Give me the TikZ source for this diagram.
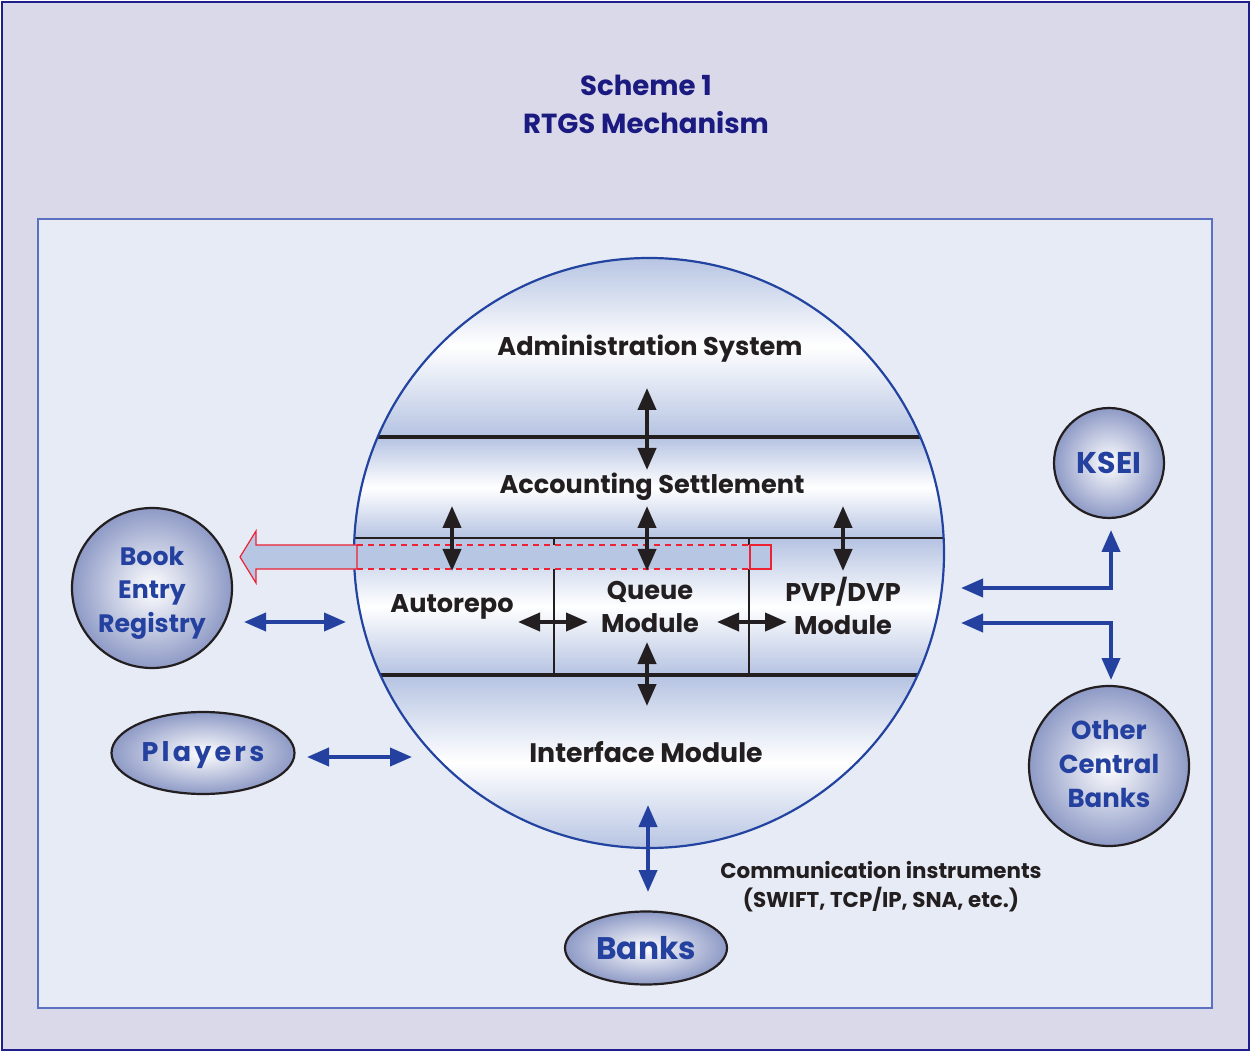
\documentclass[tikz,border=0pt]{standalone}
\usepackage{fontspec}
\setmainfont{Poppins}
\usetikzlibrary{arrows.meta,shapes.geometric}
\definecolor{framebg}{HTML}{D9D9EA}
\definecolor{framedraw}{HTML}{1E1E8C}
\definecolor{panelbg}{HTML}{E7EBF6}
\definecolor{paneldraw}{HTML}{5B70C0}
\definecolor{bandc}{HTML}{B5C3E2}
\definecolor{circdraw}{HTML}{2244A0}
\definecolor{navy}{HTML}{1A1A80}
\definecolor{lblue}{HTML}{2441A0}
\definecolor{ink}{HTML}{231F20}
\definecolor{ballout}{HTML}{8E9AC6}
\definecolor{redarrow}{HTML}{EE2233}
\definecolor{arrfill}{HTML}{B7C6E3}
\begin{document}
\begin{tikzpicture}[x=0.5pt,y=-0.5pt,
  ball/.style={circle, draw=ink, line width=1.1pt, inner color=white, outer color=ballout,
    text=lblue, align=center, inner sep=0pt},
  oval/.style={ellipse, draw=ink, line width=1.1pt, inner color=white, outer color=ballout,
    text=lblue, align=center, inner sep=0pt},
  modtext/.style={font=\bfseries\fontsize{12.8}{16.5}\selectfont, text=ink, align=center},
  titletext/.style={font=\bfseries\fontsize{13.8}{19}\selectfont, text=navy, align=center},
  blk/.style={draw=ink, line width=2pt, {Triangle[width=9pt,length=11pt]}-{Triangle[width=9pt,length=11pt]}},
  blu/.style={draw=lblue, line width=2pt, {Triangle[width=9pt,length=11pt]}-{Triangle[width=9pt,length=11pt]}},
]
\useasboundingbox (0,0) rectangle (1251,1052);
% frames
\draw[fill=framebg, draw=framedraw, line width=1.3pt] (2,2) rectangle (1249,1050);
\draw[fill=panelbg, draw=paneldraw, line width=1pt] (38,219) rectangle (1212,1008);
% title
\node[titletext] (title) at (646,104) {Scheme 1\\RTGS Mechanism};
% big circle bands
\begin{scope}
  \clip (649,553) circle[radius=147.5pt];
  \shade[top color=bandc, bottom color=bandc, middle color=white] (350,255) rectangle (948,437);
  \shade[top color=bandc, bottom color=bandc, middle color=white] (350,437) rectangle (948,538);
  \shade[top color=bandc, bottom color=bandc, middle color=white] (350,538) rectangle (948,675);
  \shade[top color=bandc, bottom color=bandc, middle color=white] (350,675) rectangle (948,850);
  \draw[ink, line width=2pt] (340,437) -- (960,437);
  \draw[ink, line width=1.4pt] (340,538) -- (960,538);
  \draw[ink, line width=2pt] (340,675) -- (960,675);
  \draw[ink, line width=1.1pt] (554,538) -- (554,675);
  \draw[ink, line width=1.1pt] (749,538) -- (749,675);
\end{scope}
\node[circle, draw=circdraw, line width=1.1pt, minimum size=295pt, inner sep=0pt] (rtgs) at (649,553) {};
% red hollow arrow
\fill[arrfill] (357,545) rectangle (750,569);
\draw[redarrow, line width=0.6pt, fill=arrfill] (240,557) -- (256,531) -- (256,545) -- (357,545) -- (357,569) -- (256,569) -- (256,583) -- cycle;
\draw[redarrow, line width=0.8pt, dash pattern=on 3pt off 2.5pt] (357,545) -- (750,545) (357,569) -- (750,569);
\draw[redarrow, line width=0.6pt, fill=arrfill] (750,545) rectangle (771,569);
% module labels
\node[modtext] (adm) at (650,349) {Administration System};
\node[modtext] (acc) at (652,487) {Accounting Settlement};
\node[modtext] (auto) at (452,607) {Autorepo};
\node[modtext] (queue) at (650,607) {Queue\\Module};
\node[modtext] (pvp) at (843,606) {PVP/DVP\\Module};
\node[modtext, font=\bfseries\fontsize{13.4}{16.5}\selectfont] (intf) at (646,752) {Interface Module};
% black arrows
\coordinate (b1a) at (647,388); \coordinate (b1b) at (647,470);
\coordinate (b2a) at (452,506); \coordinate (b2b) at (452,571);
\coordinate (b3a) at (647,506); \coordinate (b3b) at (647,571);
\coordinate (b4a) at (843,506); \coordinate (b4b) at (843,571);
\coordinate (b5a) at (647,642); \coordinate (b5b) at (647,706);
\coordinate (h1a) at (518,622); \coordinate (h1b) at (588,622);
\coordinate (h2a) at (717,622); \coordinate (h2b) at (787,622);
\draw[blk] (b1a) -- (b1b);
\draw[blk] (b2a) -- (b2b);
\draw[blk] (b3a) -- (b3b);
\draw[blk] (b4a) -- (b4b);
\draw[blk] (b5a) -- (b5b);
\draw[blk] (h1a) -- (h1b);
\draw[blk] (h2a) -- (h2b);
% outer entities
\node[ball, minimum size=80pt] (book) at (152,588) {};
\node[text=lblue, align=center, font=\bfseries\fontsize{12.6}{16.6}\selectfont] (booktext) at (152,593) {Book\\Entry\\Registry};
\node[ball, minimum size=55pt, font=\bfseries\fontsize{15}{18}\selectfont] (ksei) at (1109,463) {KSEI};
\node[ball, minimum size=80pt] (ocb) at (1109,766) {};
\node[text=lblue, align=center, font=\bfseries\fontsize{13}{16.8}\selectfont] (ocbtext) at (1109,764) {Other\\Central\\Banks};
\node[oval, minimum width=91.5pt, minimum height=41pt] (players) at (203,753) {};
\node[text=lblue, font=\bfseries\fontsize{13.5}{16}\selectfont] (playerstext) at (203,755) {P\kern1.6pt l\kern1.6pt a\kern1.6pt y\kern1.6pt e\kern1.6pt r\kern1.6pt s};
\node[oval, minimum width=81pt, minimum height=36.5pt, font=\bfseries\fontsize{15.6}{18}\selectfont] (banks) at (646,948) {Banks};
\node[font=\bfseries\fontsize{10.7}{14.5}\selectfont, text=ink, align=center] (comm) at (881,887) {Communication instruments\\(SWIFT, TCP/IP, SNA, etc.)};
% blue arrows
\coordinate (u1a) at (244,622); \coordinate (u1b) at (346,622);
\coordinate (u2a) at (307,757); \coordinate (u2b) at (412,757);
\coordinate (u3a) at (648,805); \coordinate (u3b) at (648,892);
\coordinate (k1) at (961,588); \coordinate (k2) at (1111,588); \coordinate (k3) at (1111,530);
\coordinate (o1) at (961,623); \coordinate (o2) at (1111,623); \coordinate (o3) at (1111,680);
\draw[blu] (u1a) -- (u1b);
\draw[blu] (u2a) -- (u2b);
\draw[blu] (u3a) -- (u3b);
\draw[blu] (k1) -- (k2) -- (k3);
\draw[blu] (o1) -- (o2) -- (o3);
\end{tikzpicture}
\end{document}
